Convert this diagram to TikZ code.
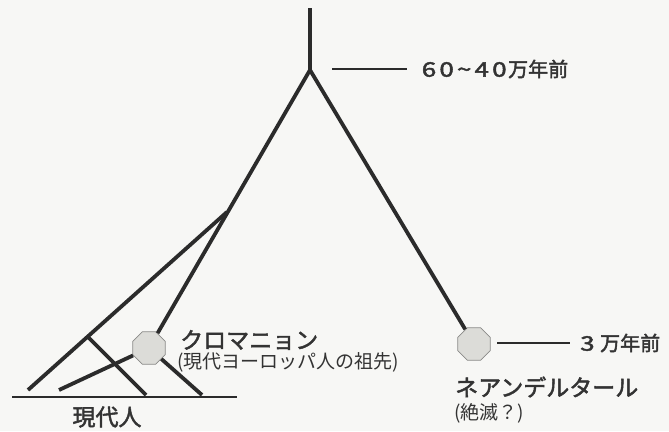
\documentclass[tikz,border=0pt]{standalone}
\usepackage{fontspec}
\newfontfamily\jp{Noto Sans CJK JP}
\newfontfamily\jpb[FakeBold=2]{Noto Sans CJK JP}
\usetikzlibrary{shapes.geometric}
\definecolor{ink}{HTML}{2B2B2B}
\definecolor{txt}{HTML}{333333}
\definecolor{bg}{HTML}{F7F7F5}
\definecolor{octfill}{HTML}{DCDCD8}
\definecolor{octdraw}{HTML}{8A8A88}
\newcommand\dgt[1]{\makebox[17.6pt]{\scalebox{1.3}[1]{#1}}}
\begin{document}
\begin{tikzpicture}[x=1pt,y=-1pt,
 branch/.style={draw=ink,line width=3.8pt},
 thinline/.style={draw=ink,line width=1.4pt},
 oct/.style={regular polygon,regular polygon sides=8,minimum size=35pt,inner sep=0pt,fill=octfill,draw=octdraw,line width=0.8pt},
 big/.style={font=\jpb\fontsize{23}{25}\selectfont,text=txt,inner sep=0pt,anchor=west},
 age/.style={font=\jpb\fontsize{20}{22}\selectfont,text=txt,inner sep=0pt,anchor=west},
 small/.style={font=\jp\fontsize{19}{21}\selectfont,text=txt,inner sep=0pt,anchor=west}]
\fill[bg] (0,0) rectangle (669,431);
\useasboundingbox (0,0) rectangle (669,431);

% coordinates
\coordinate (top) at (310,8);
\coordinate (j0) at (310,70);
\coordinate (j1) at (227,212);
\coordinate (e1) at (28,390);
\coordinate (e2) at (59,390);
\coordinate (e3) at (146,395);
\coordinate (e4) at (202,395);
\coordinate (cs) at (88,337);
\coordinate (b0) at (12,397);
\coordinate (b1) at (237,397);

% octagons
\node[oct] (cm) at (149,348) {};
\node[oct] (ne) at (474,344) {};

% branches
\draw[branch] (top) -- (j0);
\draw[branch] (j0) -- (ne);
\draw[branch] (j0) -- (cm);
\draw[branch] (j1) -- (e1);
\draw[branch] (cm) -- (e2);
\draw[branch] (cm) -- (e4);
\draw[branch] (cs) -- (e3);
\draw[thinline] (b0) -- (b1);

% labels
\coordinate (l0a) at (332,69);
\coordinate (l0b) at (407,69);
\draw[thinline] (l0a) -- (l0b);
\node[age] (t0) at (420,69) {\dgt{6}\dgt{0}\dgt{\textasciitilde}\dgt{4}\dgt{0}万年前};

\coordinate (l1a) at (497,343);
\coordinate (l1b) at (570,343);
\draw[thinline] (l1a) -- (l1b);
\node[age] (t1) at (580,343) {\makebox[20pt][l]{\scalebox{1.3}[1]{3}}万年前};

\node[big] (cro) at (180,340) {クロマニョン};
\node[small] (cros) at (177,362) {(現代ヨーロッパ人の祖先)};
\node[big] (nea) at (455,387) {ネアンデルタール};
\node[small] (neas) at (454,413) {(絶滅？)};
\node[big,anchor=center] (gen) at (107,417) {現代人};
\end{tikzpicture}
\end{document}
